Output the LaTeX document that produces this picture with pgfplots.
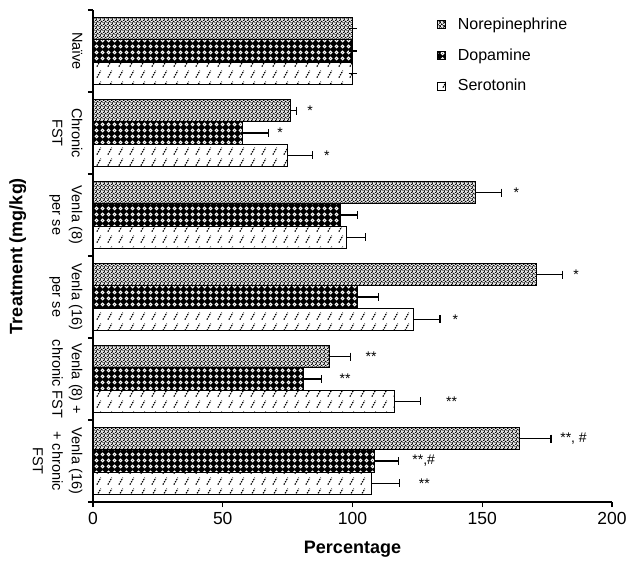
\documentclass[border=0pt]{standalone}
\usepackage{fontspec}
\setmainfont{Liberation Sans}
\usepackage{pgfplots}
\pgfplotsset{compat=1.18}
\usetikzlibrary{patterns.meta}

\tikzdeclarepattern{
  name=herring,
  type=colored,
  bounding box={(0pt,0pt) and (4pt,4pt)},
  tile size={(4pt,4pt)},
  code={
    \fill[gray!45] (0pt,0pt) rectangle (4pt,4pt);
    \draw[black, line width=0.9pt] (-1pt,-1pt)--(0pt,0pt)--(2pt,2pt)--(4pt,0pt)--(5pt,-1pt)
      (-1pt,3pt)--(0pt,4pt)--(2pt,6pt) (2pt,-2pt)--(4pt,4pt)--(5pt,3pt) (0pt,4pt)--(2pt,2pt);
    \draw[white, line width=0.55pt] (-1pt,1pt)--(0pt,2pt)--(2pt,4pt)--(4pt,2pt)--(5pt,1pt)
      (0pt,2pt)--(2pt,0pt)--(4pt,2pt);
  }
}
\tikzdeclarepattern{
  name=rings,
  type=uncolored,
  bounding box={(0pt,0pt) and (5.5pt,5.5pt)},
  tile size={(5.5pt,5.5pt)},
  code={
    \draw[line width=1pt] (2.75pt,2.75pt) circle (1.5pt);
  }
}
\tikzdeclarepattern{
  name=slashes,
  type=uncolored,
  bounding box={(0pt,0pt) and (10.5pt,11pt)},
  tile size={(10.5pt,11pt)},
  code={
    \draw[line width=1.2pt, dash pattern=on 1.6pt off 1.1pt] (2pt,1.5pt)--(6pt,9pt);
  }
}

\pgfplotstableread{
x y e
100 5 0
76 4 2.5
147.5 3 10
171 2 10
91 1 8.3
164.5 0 12
}\tabNE
\pgfplotstableread{
x y e
100 5 0
57.7 4 10
95.4 3 6.6
102 2 8
81 1 7.2
108.3 0 9.3
}\tabDA
\pgfplotstableread{
x y e
100 5 0
74.9 4 9.6
97.5 3 7.5
123.4 2 10.3
116 1 10.3
107.4 0 10.6
}\tabHT

\begin{document}
\begin{tikzpicture}
\begin{axis}[
  scale only axis,
  width=519pt, height=492pt,
  xmin=0, xmax=200, ymin=-0.5, ymax=5.5,
  axis x line*=bottom, axis y line*=left,
  axis line style={-, line width=1.3pt},
  tick align=outside,
  major tick length=5pt,
  tick style={line width=1.2pt, black},
  xtick={0,50,...,200},
  xticklabels={0,50,100,150,200},
  ytick={-0.5,0.5,...,5.5},
  yticklabels={},
  extra y ticks={5,4,3,2,1,0},
  extra y tick labels={Naïve, {Chronic\\FST}, {Venla (8)\\per se}, {Venla (16)\\per se}, {Venla (8) +\\chronic FST}, {Venla (16)\\+ chronic\\FST}},
  extra y tick style={major tick length=0pt, yticklabel style={rotate=-90, anchor=north, align=center, font=\fontsize{14.5}{19.5}\selectfont}},
  yticklabel shift=7pt,
  xticklabel style={font=\fontsize{17.5}{20}\selectfont},
  xticklabel shift=2pt,
  /pgf/number format/assume math mode=true,
  xlabel={Percentage},
  ylabel={Treatment (mg/kg)},
  xlabel style={font=\bfseries\fontsize{18}{20}\selectfont, at={(axis description cs:0.5,-0.095)}, anchor=center},
  ylabel style={font=\bfseries\fontsize{18}{20}\selectfont, at={(axis description cs:-0.145,0.5)}, anchor=center, rotate=0},
  xbar, bar width=0.272,
  legend style={draw=none, fill=none, at={(0.663,0.988)}, anchor=north west, inner sep=0pt, row sep=13.5pt, font=\fontsize{16}{18}\selectfont, cells={anchor=west}},
  legend image code/.code={\draw[#1, line width=0.6pt] (0pt,-4pt) rectangle (8pt,4pt);},
  /tikz/every odd column/.append style={column sep=10pt},
  error bars/error bar style={line width=1.1pt, black},
  error bars/error mark=|,
  error bars/error mark options={line width=1.1pt, mark size=4pt, black},
]
\addplot[draw=black, line width=1pt, pattern=herring, bar shift=0.272,
  error bars/.cd, x dir=plus, x explicit] table[x=x, y=y, x error=e] {\tabNE};
\addplot[draw=black, line width=1pt, fill=black, postaction={pattern=rings, pattern color=white}, bar shift=0,
  error bars/.cd, x dir=plus, x explicit] table[x=x, y=y, x error=e] {\tabDA};
\addplot[draw=black, line width=1pt, fill=white, postaction={pattern=slashes, pattern color=black}, bar shift=-0.272,
  error bars/.cd, x dir=plus, x explicit] table[x=x, y=y, x error=e] {\tabHT};
\legend{Norepinephrine, Dopamine, Serotonin}

\begin{scope}[every node/.style={anchor=west, font=\fontsize{14}{16}\selectfont, inner sep=0pt}]
\node at (axis cs:82.5,4.272) {*};
\node at (axis cs:71,4) {*};
\node at (axis cs:89,3.728) {*};
\node at (axis cs:162,3.272) {*};
\node at (axis cs:185,2.272) {*};
\node at (axis cs:138.5,1.728) {*};
\node at (axis cs:105,1.272) {**};
\node at (axis cs:95,1) {**};
\node at (axis cs:136,0.728) {**};
\node at (axis cs:180,0.272) {**, \#};
\node at (axis cs:123,0) {**,\#};
\node at (axis cs:125.5,-0.272) {**};
\end{scope}
\end{axis}
\path ([shift={(-93pt,-60pt)}]current axis.south west) ([shift={(29pt,10pt)}]current axis.north east);
\end{tikzpicture}
\end{document}
